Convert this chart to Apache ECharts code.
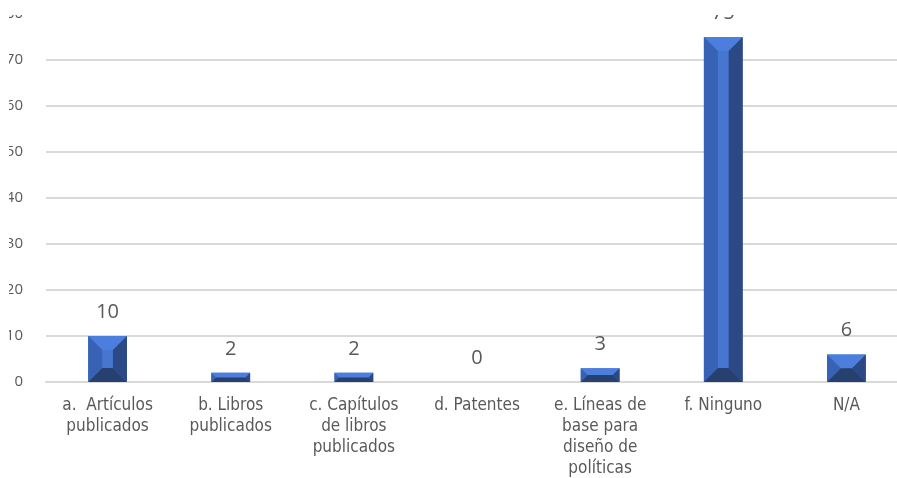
<!DOCTYPE html>
<html>
<head>
<meta charset="utf-8">
<script src="https://cdn.jsdelivr.net/npm/echarts@6/dist/echarts.min.js"></script>
<style>
  html, body { margin: 0; padding: 0; background: #fff; overflow: hidden; }
  #fig_productos { width: 897px; height: 478px; }
</style>
</head>
<body>
<div id="fig_productos"></div>
<script>
var categories = [
    'a.  Artículos\npublicados',
    'b. Libros\npublicados',
    'c. Capítulos\nde libros\npublicados',
    'd. Patentes',
    'e. Líneas de\nbase para\ndiseño de\npolíticas',
    'f. Ninguno',
    'N/A'
];
var values = [10, 2, 2, 0, 3, 75, 6];
var yTicks = [0, 10, 20, 30, 40, 50, 60, 70, 80];

var textFont = '"Liberation Sans Narrow", "DejaVu Sans Condensed", "Open Sans", sans-serif';

// bevel faces, like the excel "angle" bevel
var faceColors = {
    top: '#4c7ede',
    face: '#4676d0',
    left: '#3863b4',
    right: '#2b4a85',
    bottom: '#26406f'
};

function renderBevelBar(params, api) {
    var idx = api.value(0);
    var val = api.value(1);
    var top = api.coord([idx, val]);
    var base = api.coord([idx, 0]);
    var bw = api.size([1, 0])[0] * 0.315;
    var x0 = top[0] - bw / 2, x1 = top[0] + bw / 2;
    var y0 = top[1], y1 = base[1];
    var h = y1 - y0;
    var children = [];
    if (h > 0) {
        var b = Math.min(14, h / 2, bw * 0.37);
        var xi0 = x0 + b, xi1 = x1 - b, yi0 = y0 + b, yi1 = y1 - b;
        children.push(
            { type: 'rect', shape: { x: x0, y: y0, width: bw, height: h }, style: { fill: faceColors.face } },
            { type: 'polygon', shape: { points: [[x0, y0], [x1, y0], [xi1, yi0], [xi0, yi0]] }, style: { fill: faceColors.top } },
            { type: 'polygon', shape: { points: [[x0, y0], [xi0, yi0], [xi0, yi1], [x0, y1]] }, style: { fill: faceColors.left } },
            { type: 'polygon', shape: { points: [[x1, y0], [x1, y1], [xi1, yi1], [xi1, yi0]] }, style: { fill: faceColors.right } },
            { type: 'polygon', shape: { points: [[x0, y1], [x1, y1], [xi1, yi1], [xi0, yi1]] }, style: { fill: faceColors.bottom } }
        );
    }
    children.push({
        type: 'text',
        style: {
            x: top[0], y: y0 - 24,
            text: String(val),
            fill: '#595959',
            font: '20px "Open Sans", sans-serif',
            align: 'center', verticalAlign: 'middle'
        }
    });
    return { type: 'group', children: children };
}

var seriesData = [];
for (let i = 0; i < values.length; i++) {
    seriesData.push([i, values[i]]);
}

var option = {
    animation: false,
    grid: {
        top: 14,
        left: 46,
        width: 862,
        height: 368,
        outerBoundsMode: 'none'
    },
    xAxis: {
        type: 'category',
        data: categories,
        axisTick: { show: false },
        axisLine: { lineStyle: { color: '#d9d9d9', width: 2 } },
        axisLabel: {
            interval: 0,
            margin: 13,
            color: '#595959',
            fontSize: 17,
            lineHeight: 21,
            fontFamily: textFont
        }
    },
    yAxis: {
        type: 'value',
        min: yTicks[0],
        max: yTicks[yTicks.length - 1],
        interval: 10,
        axisLine: { show: false },
        axisTick: { show: false },
        splitLine: { lineStyle: { color: '#d9d9d9', width: 2 } },
        axisLabel: {
            margin: 23,
            color: '#595959',
            fontSize: 15,
            fontFamily: '"Open Sans", sans-serif'
        }
    },
    series: [{
        type: 'custom',
        renderItem: renderBevelBar,
        encode: { x: 0, y: 1 },
        data: seriesData
    }],
    // the source picture is cut off at the top and the left
    graphic: [
        { type: 'rect', z: 100, shape: { x: 0, y: 0, width: 897, height: 15 }, style: { fill: '#fff' } },
        { type: 'rect', z: 100, shape: { x: 0, y: 0, width: 9, height: 400 }, style: { fill: '#fff' } }
    ]
};

var chart = echarts.init(document.getElementById('fig_productos'));
chart.setOption(option);
</script>
</body>
</html>
